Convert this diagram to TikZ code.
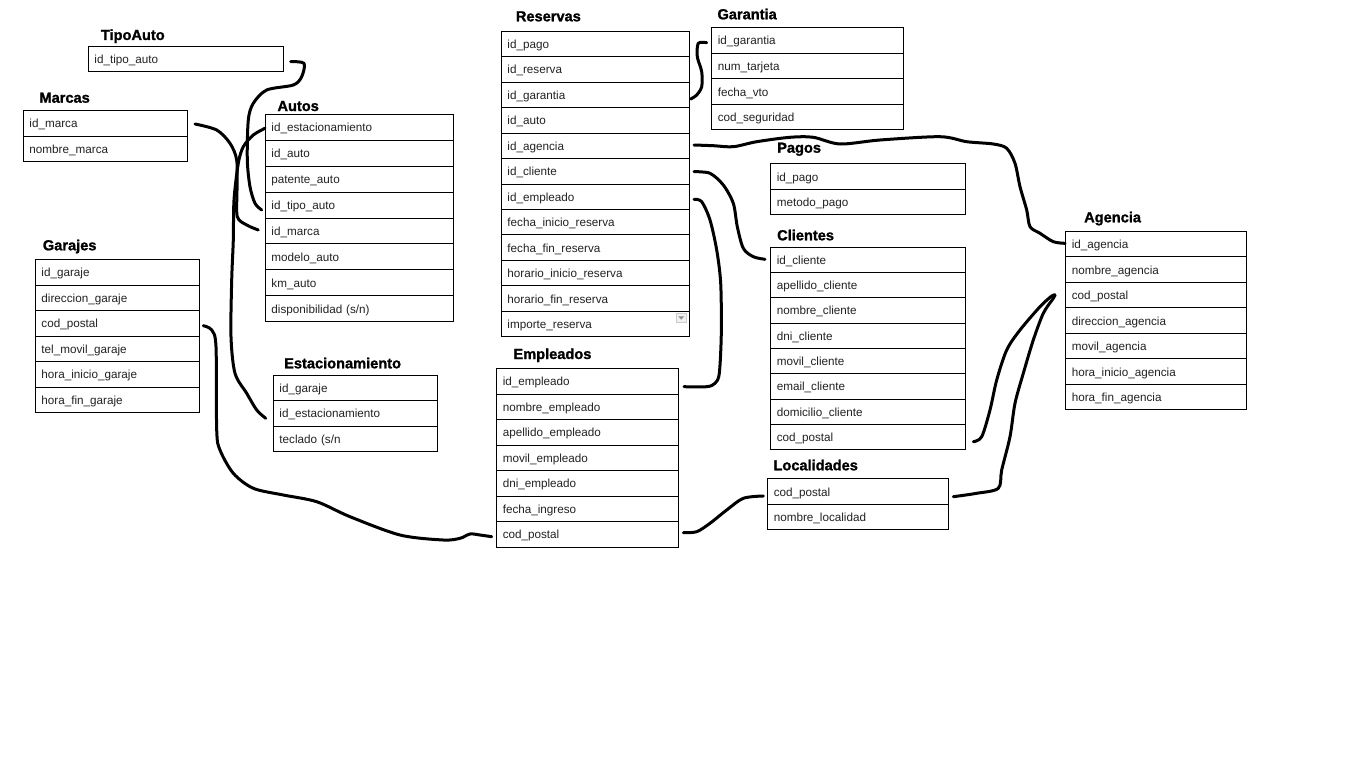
\documentclass[tikz,border=0pt]{standalone}
\usepackage{fontspec}
\setmainfont{Liberation Sans}
\newfontfamily\ttlfont[FakeBold=1.3]{Liberation Sans Bold}
\usetikzlibrary{calc}
\definecolor{rowtxt}{HTML}{222222}
\tikzset{
  rowbox/.style={draw=black, line width=0.9pt, anchor=north west, inner xsep=6pt, inner ysep=0pt,
    align=left, text height=10pt, text depth=1pt, font=\fontsize{11.7}{13}\selectfont, text=rowtxt},
  ttl/.style={anchor=base west, inner sep=0pt, font=\ttlfont\fontsize{14.6}{16}\selectfont},
  conn/.style={line width=3pt, line cap=round, line join=round},
}
% name, left, top, right, row height, title pos, title, rows
\newcommand\dbtable[8]{%
  \node[ttl] (#1-t) at (#6) {#7};
  \pgfmathsetmacro\tbltw{#4-#2-12}%
  \foreach \rt [count=\ri] in {#8}{
    \node[rowbox, text width=\tbltw pt, minimum height=#5pt] (#1-\ri) at ({#2},{#3+(\ri-1)*#5}) {\rt};
  }%
}
\begin{document}
\begin{tikzpicture}[x=1pt,y=-1pt]
\fill[white] (0,0) rectangle (1366,768);
\useasboundingbox (0,0) rectangle (1366,768);

\dbtable{tipo}{88}{46}{283}{25}{100.7,40}{TipoAuto}{id\_tipo\_auto}
\dbtable{marc}{23}{110}{187}{25.5}{39.3,102.7}{Marcas}{id\_marca,nombre\_marca}
\dbtable{auto}{265}{114}{453}{25.875}{277.3,111}{Autos}{id\_estacionamiento,id\_auto,patente\_auto,id\_tipo\_auto,id\_marca,modelo\_auto,km\_auto,disponibilidad (s/n)}
\dbtable{gara}{35}{259}{199}{25.5}{42.7,250.3}{Garajes}{id\_garaje,direccion\_garaje,cod\_postal,tel\_movil\_garaje,hora\_inicio\_garaje,hora\_fin\_garaje}
\dbtable{esta}{273}{375}{437}{25.33}{284,368.3}{Estacionamiento}{id\_garaje,id\_estacionamiento,teclado (s/n}
\dbtable{rese}{501}{30.7}{688.5}{25.47}{515.7,21.3}{Reservas}{id\_pago,id\_reserva,id\_garantia,id\_auto,id\_agencia,id\_cliente,id\_empleado,fecha\_inicio\_reserva,fecha\_fin\_reserva,horario\_inicio\_reserva,horario\_fin\_reserva,importe\_reserva}
\dbtable{gara2}{711.3}{27.3}{903.3}{25.5}{717.3,19.3}{Garantia}{id\_garantia,num\_tarjeta,fecha\_vto,cod\_seguridad}
\dbtable{pago}{770.3}{163.3}{964.5}{25.5}{777,152.7}{Pagos}{id\_pago,metodo\_pago}
\dbtable{clie}{770.3}{246.7}{965.3}{25.33}{777,240.3}{Clientes}{id\_cliente,apellido\_cliente,nombre\_cliente,dni\_cliente,movil\_cliente,email\_cliente,domicilio\_cliente,cod\_postal}
\dbtable{loca}{767.3}{478.3}{947.7}{25.5}{773.3,470.3}{Localidades}{cod\_postal,nombre\_localidad}
\dbtable{empl}{496.3}{368}{677.7}{25.53}{513.3,359}{Empleados}{id\_empleado,nombre\_empleado,apellido\_empleado,movil\_empleado,dni\_empleado,fecha\_ingreso,cod\_postal}
\dbtable{agen}{1065.3}{231}{1245.7}{25.47}{1084,222.3}{Agencia}{id\_agencia,nombre\_agencia,cod\_postal,direccion\_agencia,movil\_agencia,hora\_inicio\_agencia,hora\_fin\_agencia}

% dropdown marker in importe_reserva
\filldraw[fill=black!6, draw=black!20, line width=0.6pt] (676,313) rectangle (686.5,322.5);
\fill[black!45] (678.3,316.3) -- (684.2,316.3) -- (681.25,319.6) -- cycle;

% connector end points
\coordinate (c1a) at (290.7,61.7);   \coordinate (c1b) at (261.7,210);
\coordinate (c2a) at (195,124);      \coordinate (c2b) at (258.3,230);
\coordinate (c3a) at (265,128.3);    \coordinate (c3b) at (265.7,418.3);
\coordinate (c4a) at (203.3,325.7);  \coordinate (c4b) at (491.7,536.7);
\coordinate (c5a) at (706.7,42.7);   \coordinate (c5b) at (690.7,99);
\coordinate (c6a) at (694,145);      \coordinate (c6b) at (1065,243.3);
\coordinate (c7a) at (694,171.7);    \coordinate (c7b) at (765,259.3);
\coordinate (c8a) at (694,199.3);    \coordinate (c8b) at (684,386.7);
\coordinate (c9a) at (683.3,532.7);  \coordinate (c9b) at (763.3,496);
\coordinate (c10a) at (973.3,441.7); \coordinate (cag) at (1055,295);
\coordinate (c11a) at (953.3,496.7);

\draw[conn] plot[smooth, tension=0.5] coordinates {(c1a) (304,63.3) (301.7,76.7) (293.3,85) (266.7,90) (253.3,103.3) (248.3,120) (247.3,160) (250,186.7) (255,203.3) (c1b)};
\draw[conn] plot[smooth, tension=0.5] coordinates {(c2a) (216.7,130) (230,143.3) (236.7,160) (237,190) (237.3,216.7) (246.7,225) (c2b)};
\draw[conn] plot[smooth, tension=0.5] coordinates {(c3a) (253.3,135) (243.3,146.7) (238.3,163.3) (234,200) (233.3,240) (231.7,280) (231,336.7) (235,373.3) (246.7,393.3) (256.7,410) (c3b)};
\draw[conn] plot[smooth, tension=0.5] coordinates {(c4a) (211.7,330) (216,346.7) (216.7,430) (220,450) (233.3,473.3) (253.3,488.3) (283.3,495) (316.7,501.7) (350,516.7) (400,535) (443.3,540) (460,538.3) (470,534) (480,535) (c4b)};
\draw[conn] plot[smooth, tension=0.5] coordinates {(c5a) (698.3,43.3) (697.3,56.7) (701.7,71.7) (701.7,86.7) (696.7,95) (c5b)};
\draw[conn] plot[smooth, tension=0.5] coordinates {(c6a) (713.3,145.7) (733.3,146.7) (756.7,141.7) (790,137.3) (813.3,137.3) (840,144) (880,140) (940,136.7) (966.7,141.7) (993.3,144) (1006.7,148.3) (1015,163.3) (1020,186.7) (1026.7,210) (1030,226.7) (1040,233.3) (1053.3,241.7) (c6b)};
\draw[conn] plot[smooth, tension=0.5] coordinates {(c7a) (710,173.3) (723.3,185) (733.3,203.3) (737.3,226.7) (743.3,248.3) (753.3,256.7) (c7b)};
\draw[conn] plot[smooth, tension=0.5] coordinates {(c8a) (701.7,201.7) (710,220) (716.7,250) (720.7,283.3) (721.3,333.3) (719.3,373.3) (715,383.3) (706.7,386.7) (c8b)};
\draw[conn] plot[smooth, tension=0.5] coordinates {(c9a) (696.7,531.7) (710,523.3) (726.7,510) (743.3,498.3) (c9b)};
\draw[conn] plot[smooth, tension=0.5] coordinates {(c10a) (981.7,436.7) (990,410) (996.7,380) (1006.7,350) (1020,330) (1040,306.7) (1051.7,296) (cag)};
\draw[conn] plot[smooth, tension=0.5] coordinates {(c11a) (976.7,493.3) (998.3,488.3) (1001.7,470) (1010,436.7) (1015,403.3) (1023.3,373.3) (1033.3,340) (1043.3,313.3) (1053.3,298.3) (cag)};
\end{tikzpicture}
\end{document}
